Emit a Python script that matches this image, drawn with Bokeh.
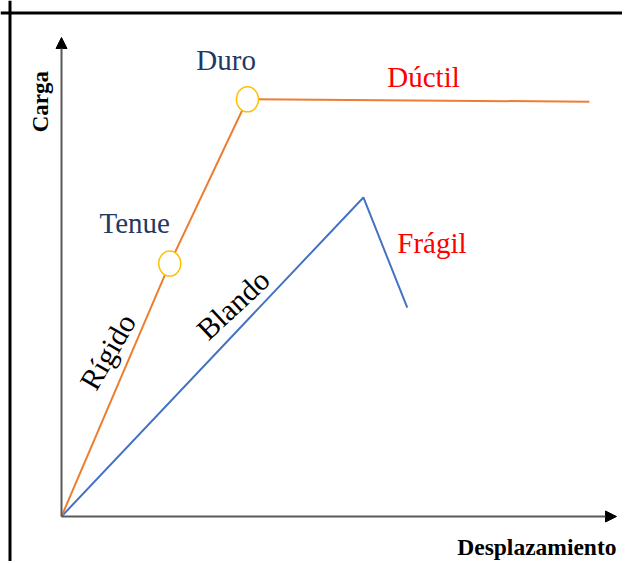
from bokeh.plotting import figure
from bokeh.models import Range1d, Arrow, NormalHead, Span, Label
from bokeh.core.properties import value
from bokeh.embed import file_html
from bokeh.resources import INLINE

# ---- data (arbitrary units: displacement 0-100, load 0-100) ----
ductile_x = [0, 19.5, 33.5, 95.1]
ductile_y = [0, 52.8, 87.1, 86.6]
points_x = [19.5, 33.5]          # Tenue, Duro
points_y = [52.8, 87.1]
brittle_x = [0, 54.4, 62.3]
brittle_y = [0, 66.6, 43.6]

W, H = 622, 561
# pixel layout of the frame
OX, OY = 61, 516          # origin in canvas px (from left, from top)
SX, SY = 5.55, 4.79       # px per data unit

x_rng = Range1d(-OX / SX, (W - OX) / SX)
y_rng = Range1d(-(H - OY) / SY, OY / SY)

p = figure(width=W, height=H, x_range=x_rng, y_range=y_rng,
           output_backend="svg", toolbar_location=None,
           min_border=0, x_axis_location=None, y_axis_location=None)
p.grid.visible = False
p.outline_line_color = None
p.background_fill_color = "white"

# border (top and left)
p.add_layout(Span(location=-(OX - 9.5) / SX, dimension="height", line_color="black", line_width=3))
p.add_layout(Span(location=(OY - 12.5) / SY, dimension="width", line_color="black", line_width=3))

# axes with arrows
axis_col = "#595959"
p.add_layout(Arrow(x_start=0, y_start=0, x_end=100, y_end=0, line_color=axis_col, line_width=2,
                   end=NormalHead(size=11, fill_color="black", line_color="black")))
p.add_layout(Arrow(x_start=0, y_start=0, x_end=0, y_end=100, line_color=axis_col, line_width=2,
                   end=NormalHead(size=11, fill_color="black", line_color="black")))

# curves
p.line(brittle_x, brittle_y, line_color="#4472C4", line_width=2)
p.line(ductile_x, ductile_y, line_color="#ED7D31", line_width=2)
p.ellipse(points_x, points_y, width=22, height=25, width_units="screen", height_units="screen",
          fill_color="white", line_color="#FFC000", line_width=1.5)

serif = value("Liberation Serif")
navy = "#1F3864"
red = "#FF0000"

p.text([24.3], [95.2], text=["Duro"], text_font=serif, text_font_size="29px", text_color=navy,
       text_align="left", text_baseline="alphabetic")
p.text([6.85], [61.2], text=["Tenue"], text_font=serif, text_font_size="29px", text_color=navy,
       text_align="left", text_baseline="alphabetic")
p.text([58.7], [91.8], text=["Dúctil"], text_font=serif, text_font_size="29px", text_color=red,
       text_align="left", text_baseline="alphabetic")
p.text([60.5], [57.0], text=["Frágil"], text_font=serif, text_font_size="29px", text_color=red,
       text_align="left", text_baseline="alphabetic")
p.text([8.3], [34.4], text=["Rígido"], text_font=serif, text_font_size="30px", text_color="black",
       text_align="center", text_baseline="middle", angle=60, angle_units="deg")
p.text([30.9], [44.3], text=["Blando"], text_font=serif, text_font_size="30px", text_color="black",
       text_align="center", text_baseline="middle", angle=43, angle_units="deg")

p.add_layout(Label(x=-3.8, y=86.6, text="Carga", text_font="Liberation Serif", text_font_style="bold",
                   text_font_size="23px", text_color="black", angle=90, angle_units="deg",
                   text_align="center", text_baseline="middle"))
p.add_layout(Label(x=100, y=-6.3, text="Desplazamiento", text_font="Liberation Serif",
                   text_font_style="bold", text_font_size="23.5px", text_color="black",
                   text_align="right", text_baseline="alphabetic"))

open("out.html", "w").write(file_html(p, INLINE))
